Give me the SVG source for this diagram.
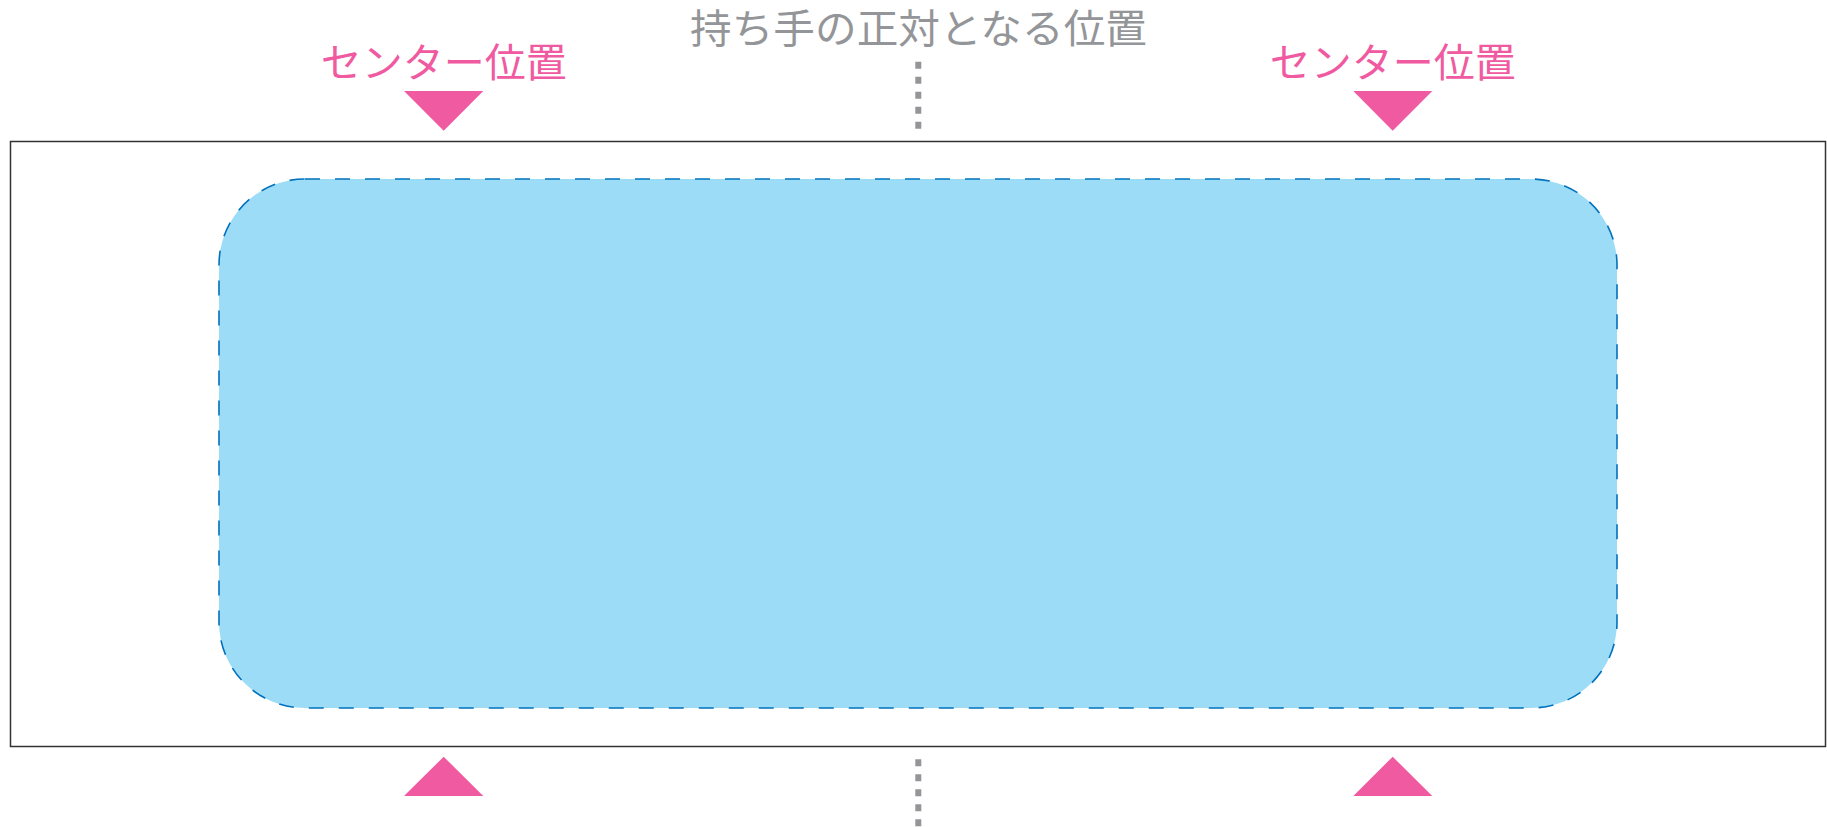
<svg xmlns="http://www.w3.org/2000/svg" width="1827" height="827" viewBox="0 0 1827 827">
<style>
.pink{fill:#ef5aa1}
.lbl{font-family:"Noto Sans CJK JP","Noto Sans",sans-serif;font-size:40px;text-anchor:middle}
.gray{fill:#939598}
.dots{stroke:#939598;stroke-width:6;stroke-dasharray:7 8;fill:none}
</style>
<rect width="1827" height="827" fill="#ffffff"/>
<g id="board">
<rect x="10.5" y="141.5" width="1815" height="605" fill="none" stroke="#333333" stroke-width="1.5"/>
</g>
<g id="area">
<rect x="219" y="179" width="1398" height="529" rx="86" ry="86" fill="#9ddcf7" stroke="#0071bc" stroke-width="1.6" stroke-dasharray="15 15"/>
</g>
<g id="center-left">
<text class="lbl pink" x="443.7" y="77" textLength="246" lengthAdjust="spacingAndGlyphs">センター位置</text>
<polygon class="pink" points="404,91 483.3,91 443.7,130.7"/>
<polygon class="pink" points="443.7,756.7 483.3,796 404,796"/>
</g>
<g id="center-right">
<text class="lbl pink" x="1392.7" y="77" textLength="246" lengthAdjust="spacingAndGlyphs">センター位置</text>
<polygon class="pink" points="1353.3,91 1432.3,91 1392.7,130.7"/>
<polygon class="pink" points="1392.7,756.7 1432.3,796 1353.3,796"/>
</g>
<g id="facing">
<text class="lbl gray" x="918.5" y="43" textLength="457" lengthAdjust="spacingAndGlyphs">持ち手の正対となる位置</text>
</g>
<g id="connectors">
<line class="dots" x1="918.3" y1="61.7" x2="918.3" y2="130"/>
<line class="dots" x1="918.3" y1="759.3" x2="918.3" y2="827"/>
</g>
</svg>
